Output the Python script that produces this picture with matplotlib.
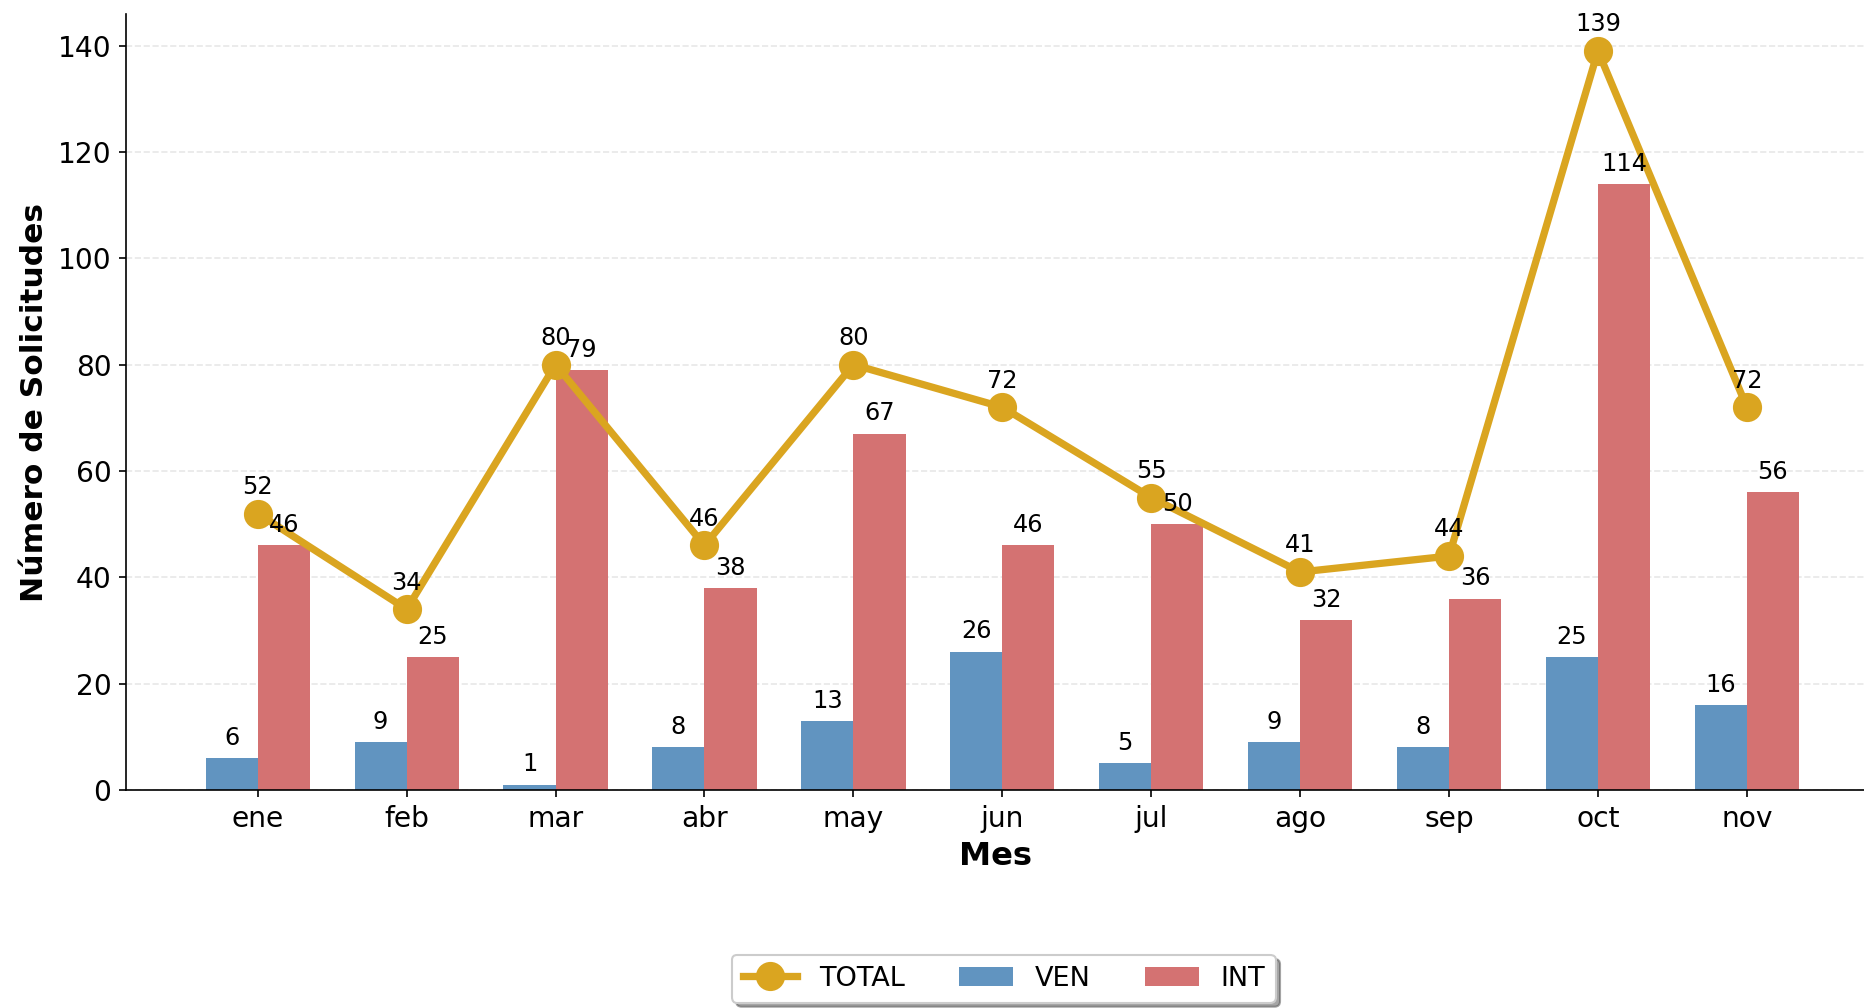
import matplotlib.pyplot as plt
import numpy as np

meses = ['ene', 'feb', 'mar', 'abr', 'may', 'jun', 'jul', 'ago', 'sep', 'oct', 'nov']
ven = [6, 9, 1, 8, 13, 26, 5, 9, 8, 25, 16]
intl = [46, 25, 79, 38, 67, 46, 50, 32, 36, 114, 56]
total = [52, 34, 80, 46, 80, 72, 55, 41, 44, 139, 72]

c_ven = '#6194c0'
c_int = '#d47272'
c_tot = '#daa520'

fig = plt.figure(figsize=(12.43, 6.72), dpi=150)
ax = fig.add_axes([126 / 1865, 1 - 790 / 1008, (1865 - 126) / 1865, (790 - 14) / 1008])

x = np.arange(len(meses))
w = 0.35
b1 = ax.bar(x - w / 2, ven, w, color=c_ven, label='VEN', zorder=2)
b2 = ax.bar(x + w / 2, intl, w, color=c_int, label='INT', zorder=2)
ax.plot(x, total, color=c_tot, lw=3.5, marker='o', markersize=13, label='TOTAL', zorder=3)

for bars, vals in ((b1, ven), (b2, intl)):
    for b, v in zip(bars, vals):
        ax.annotate(str(v), (b.get_x() + b.get_width() / 2, v), xytext=(0, 4),
                    textcoords='offset points', ha='center', va='bottom', fontsize=11.5)
for xi, v in zip(x, total):
    ax.annotate(str(v), (xi, v), xytext=(0, 7), textcoords='offset points',
                ha='center', va='bottom', fontsize=11.5)

ax.set_xticks(x)
ax.set_xticklabels(meses)
ax.tick_params(labelsize=13.5)
ax.set_xlim(-0.885, 10.79)
ax.set_ylim(0, 139 * 1.05)
ax.set_xlabel('Mes', fontsize=15.5, fontweight='bold')
ax.set_ylabel('Número de Solicitudes', fontsize=15, fontweight='bold')
ax.grid(axis='y', linestyle='--', alpha=0.3, zorder=0)
ax.spines['top'].set_visible(False)
ax.spines['right'].set_visible(False)

ax.legend(loc='upper center', bbox_to_anchor=(0.505, -0.195), ncol=3, shadow=True,
          fontsize=13, handlelength=2.0, columnspacing=2.0)

fig.savefig('out.png', dpi=150)
